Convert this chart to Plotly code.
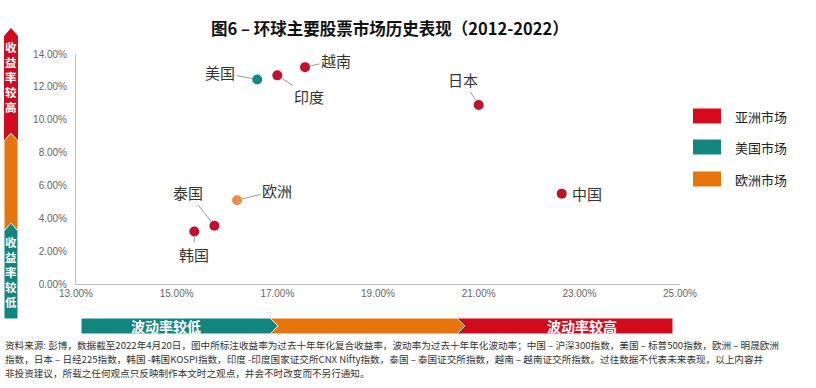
import plotly.graph_objects as go

# ---------------- data ----------------
markets = ["美国", "印度", "越南", "日本", "中国", "欧洲", "泰国", "韩国"]
regions = ["美国市场", "亚洲市场", "亚洲市场", "亚洲市场", "亚洲市场", "欧洲市场", "亚洲市场", "亚洲市场"]
volatility = [16.6, 17.0, 17.55, 21.0, 22.65, 16.2, 15.75, 15.35]   # x, %
returns = [12.45, 12.7, 13.2, 10.9, 5.5, 5.1, 3.55, 3.2]             # y, %

legend_names = ["亚洲市场", "美国市场", "欧洲市场"]
marker_colors = {"亚洲市场": "#C0122A", "美国市场": "#138A84", "欧洲市场": "#E98D4A"}
legend_colors = {"亚洲市场": "#D90A1C", "美国市场": "#13857F", "欧洲市场": "#E8740F"}

x_ticks = [13, 15, 17, 19, 21, 23, 25]
y_ticks = [0, 2, 4, 6, 8, 10, 12, 14]

title_text = "图6 – 环球主要股票市场历史表现（2012-2022）"
footer_lines = [
    "资料来源: 彭博，数据截至2022年4月20日，图中所标注收益率为过去十年年化复合收益率，波动率为过去十年年化波动率；中国 – 沪深300指数，美国 – 标普500指数，欧洲 – 明晟欧洲",
    "指数，日本 – 日经225指数，韩国 -韩国KOSPI指数，印度 -印度国家证交所CNX Nifty指数，泰国 – 泰国证交所指数，越南 – 越南证交所指数。过往数据不代表未来表现，以上内容并",
    "非投资建议，所载之任何观点只反映制作本文时之观点，并会不时改变而不另行通知。",
]

# label offsets (pixels) for each market label
label_offsets = {"美国": (-37, -7), "印度": (32, 21), "越南": (31, -7), "日本": (-16, -25),
                 "中国": (25, 0), "欧洲": (40, -10), "泰国": (-26, -33), "韩国": (0, 23)}

# ---------------- layout geometry ----------------
W, H = 816, 388
L, R, T, B = 76, 136, 54, 104
PW, PH = W - L - R, H - T - B

def px(x):
    return (x - L) / PW

def py(y):
    return (H - B - y) / PH

FONT = "Noto Sans CJK SC, Liberation Sans, sans-serif"
TICKFONT = "Liberation Sans, Arial, Noto Sans CJK SC, sans-serif"

fig = go.Figure()
for reg in legend_names:
    xs = [v for v, r in zip(volatility, regions) if r == reg]
    ys = [v for v, r in zip(returns, regions) if r == reg]
    fig.add_trace(go.Scatter(x=xs, y=ys, mode="markers", name=reg, showlegend=False,
                             marker=dict(size=10, color=marker_colors[reg])))

annotations = []
for m, xv, yv in zip(markets, volatility, returns):
    ax, ay = label_offsets[m]
    if m == "中国":
        annotations.append(dict(x=xv, y=yv, xref="x", yref="y", text=m, showarrow=False,
                                xanchor="center", yanchor="middle",
                                xshift=ax, yshift=-ay, font=dict(size=15, color="#333333", family=FONT)))
    else:
        annotations.append(dict(x=xv, y=yv, xref="x", yref="y", text=m, showarrow=True,
                                ax=ax, ay=ay, arrowhead=0, arrowwidth=1, arrowcolor="#9A9A9A",
                                standoff=5, font=dict(size=15, color="#333333", family=FONT)))

def paper_text(x, y, text, size, color, xanchor="center", pad=1):
    return dict(x=px(x), y=py(y), xref="paper", yref="paper", text=text, showarrow=False,
                xanchor=xanchor, yanchor="middle", align=xanchor if xanchor != "center" else "center",
                borderpad=pad, font=dict(size=size, color=color, family=FONT))

# title
annotations.append(paper_text(390, 28, "<b>" + title_text + "</b>", 16.5, "#111111"))

# footer
for i, line in enumerate(footer_lines):
    annotations.append(paper_text(4, 345 + i * 14, line, 9.6, "#333333", xanchor="left", pad=0))

# legend
legend_y = [116, 147, 179]
shapes = []
for name, yc in zip(legend_names, legend_y):
    shapes.append(dict(type="rect", xref="paper", yref="paper", x0=px(693), x1=px(721),
                       y0=py(yc - 7.5), y1=py(yc + 7.5), fillcolor=legend_colors[name], line=dict(width=0)))
    annotations.append(paper_text(733, yc, name, 13, "#222222", xanchor="left"))

def path(points):
    return "M " + " L ".join(f"{px(a):.5f},{py(b):.5f}" for a, b in points) + " Z"

# vertical return bar (left)
shapes.append(dict(type="path", xref="paper", yref="paper", layer="below",
                   path=path([(4, 36), (11, 28), (18, 36), (18, 142), (4, 142)]),
                   fillcolor="#D20A1E", line=dict(width=0)))
shapes.append(dict(type="path", xref="paper", yref="paper", layer="below",
                   path=path([(4, 141), (11, 133), (18, 141), (18, 232), (4, 232)]),
                   fillcolor="#E8740F", line=dict(width=1, color="white")))
shapes.append(dict(type="path", xref="paper", yref="paper", layer="below",
                   path=path([(4, 231), (11, 223), (18, 231), (18, 319), (4, 319)]),
                   fillcolor="#13857F", line=dict(width=1, color="white")))
for txt, yc in [("收益率较高", 77), ("收益率较低", 272)]:
    annotations.append(paper_text(11, yc, "<b>" + "<br>".join(txt) + "</b>", 11.5, "white"))

# horizontal volatility bar (bottom)
shapes.append(dict(type="path", xref="paper", yref="paper", layer="below",
                   path=path([(457, 318), (673, 318), (673, 334), (457, 334), (465, 326)]),
                   fillcolor="#D20A1E", line=dict(width=1, color="white")))
shapes.append(dict(type="path", xref="paper", yref="paper", layer="below",
                   path=path([(270, 318), (457, 318), (465, 326), (457, 334), (270, 334), (278, 326)]),
                   fillcolor="#E8740F", line=dict(width=1, color="white")))
shapes.append(dict(type="path", xref="paper", yref="paper", layer="below",
                   path=path([(81, 318), (270, 318), (278, 326), (270, 334), (81, 334)]),
                   fillcolor="#13857F", line=dict(width=1, color="white")))
for txt, xc in [("波动率较低", 166), ("波动率较高", 582)]:
    annotations.append(paper_text(xc, 326, "<b>" + txt + "</b>", 14, "white"))

fig.update_layout(
    width=W, height=H, margin=dict(l=L, r=R, t=T, b=B),
    plot_bgcolor="rgba(0,0,0,0)", paper_bgcolor="white",
    xaxis=dict(range=[13, 25], tickvals=x_ticks, ticktext=[f"{v:.2f}%" for v in x_ticks],
               showgrid=False, zeroline=False, showline=True, linecolor="#BFBFBF", linewidth=1,
               ticks="", tickfont=dict(size=10, color="#666666", family=TICKFONT)),
    yaxis=dict(range=[0, 14], tickvals=y_ticks, ticktext=[f"{v:.2f}%" for v in y_ticks],
               showgrid=False, zeroline=False, showline=True, linecolor="#BFBFBF", linewidth=1,
               ticks="", ticklabelstandoff=6, tickfont=dict(size=10, color="#666666", family=TICKFONT)),
    annotations=annotations, shapes=shapes, showlegend=False,
)

fig.write_html("out.html", config={"displayModeBar": False},
               post_script="document.body.style.margin='0';document.body.style.overflow='hidden';")
